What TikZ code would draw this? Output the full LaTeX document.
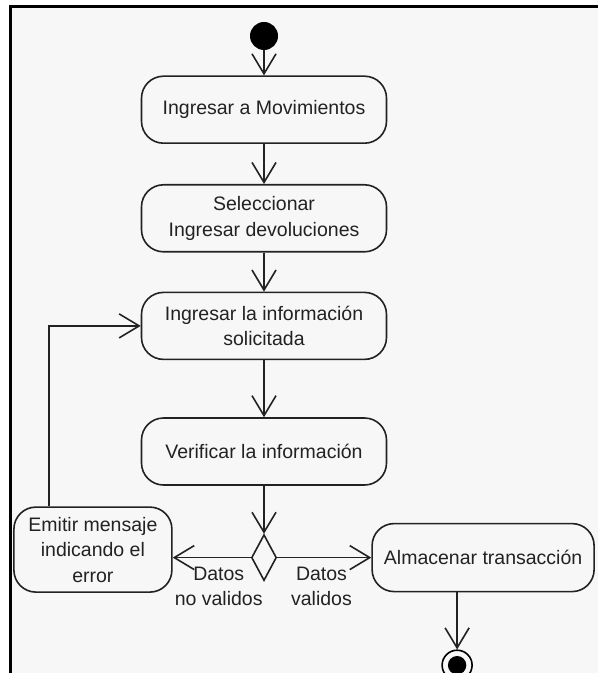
\documentclass[tikz,border=0pt]{standalone}
\usepackage{fontspec}
\setmainfont{Liberation Sans}
\usepackage{tikz}
\usetikzlibrary{
  arrows.meta,
  positioning,
  shapes.geometric
}
\definecolor{ink}{HTML}{222222}
\definecolor{paper}{HTML}{F7F7F7}
\tikzset{
  action/.style={
    draw=ink,
    line width=0.8pt,
    rounded corners=11pt,
    fill=paper,
    minimum height=33.5pt,
    minimum width=122.5pt,
    align=center,
    text=ink,
    font=\fontsize{9.75}{12.75}\selectfont
  },
  startnode/.style={circle, fill=black, minimum size=14pt, inner sep=0pt},
  endnode/.style={
    circle,
    draw=black,
    line width=0.8pt,
    minimum size=15pt,
    inner sep=0pt,
    path picture={\fill[black] (path picture bounding box.center) circle (4.6pt);}
  },
  decision/.style={
    diamond,
    draw=ink,
    line width=0.8pt,
    fill=paper,
    minimum width=12.5pt,
    minimum height=23pt,
    inner sep=0pt
  },
  arrow/.style={-{Straight Barb[length=10pt, width=12pt]}, line width=0.8pt, draw=ink},
  guard/.style={text=ink, align=center, font=\fontsize{9.75}{12.75}\selectfont},
  frame/.style={line width=1.5pt, draw=black}
}

\begin{document}
\begin{tikzpicture}[x=0.5pt, y=-0.5pt]
  % page and frame
  \path[use as bounding box, fill=white] (0,0) rectangle (598,673);
  \fill[paper] (10,7) rectangle (598,673);
  \draw[frame] (10,673) -- (10,7) -- (598,7);

  \node[startnode] (start) at (264,36) {};

  \node[action, below=12.5pt of start] (movim) {Ingresar a Movimientos};
  \node[action, below=20pt of movim] (selec)
    {Seleccionar\\Ingresar devoluciones};
  \node[action, below=19.5pt of selec] (info)
    {Ingresar la información\\solicitada};
  \node[action, below=28.5pt of info] (verif) {Verificar la información};

  \node[decision, below=24pt of verif] (check) {};

  \node[action, minimum width=79pt, minimum height=42.5pt,
    left=39pt of check, yshift=4pt] (emitir)
    {Emitir mensaje\\indicando el\\error};
  \node[action, minimum width=111pt, minimum height=34pt,
    right=47pt of check] (almacen) {Almacenar transacción};

  \node[endnode, below=28.5pt of almacen, xshift=-13pt] (final) {};

  \draw[arrow] (start) -- (movim);
  \draw[arrow] (movim) -- (selec);
  \draw[arrow] (selec) -- (info);
  \draw[arrow] (info) -- (verif);
  \draw[arrow] (verif) -- (check);
  \draw[arrow] (check.west) -- node[guard, pos=0.41, below=1pt] {Datos\\no validos}
    (check.west -| emitir.east);
  \draw[arrow] (check.east) -- node[guard, pos=0.47, below=1pt] {Datos\\validos}
    (check.east -| almacen.west);
  \draw[arrow] ([xshift=-22pt]emitir.north) |- (info.west);
  \draw[arrow] (final |- almacen.south) -- (final);
\end{tikzpicture}
\end{document}
